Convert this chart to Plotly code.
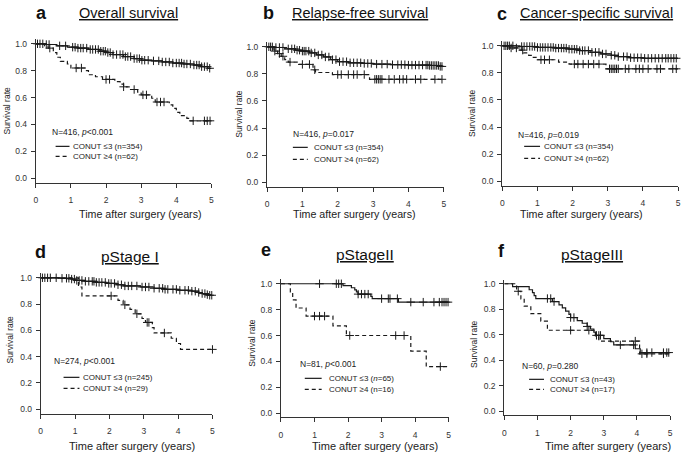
import numpy as np
import plotly.graph_objects as go

W, H = 685, 455

# ---------------- tick labels ----------------
X_TICKS = [0, 1, 2, 3, 4, 5]
X_TICK_TEXT = ["0", "1", "2", "3", "4", "5"]
Y_TICKS = [0.0, 0.2, 0.4, 0.6, 0.8, 1.0]
Y_TICK_TEXT = ["0.0", "0.2", "0.4", "0.6", "0.8", "1.0"]

# ---------------- panel texts ----------------
PANEL_LETTERS = ["a", "b", "c", "d", "e", "f"]
PANEL_TITLES = ["Overall survival", "Relapse-free survival", "Cancer-specific survival",
                "pStage I", "pStageII", "pStageIII"]
STATS = ["N=416, <i>p</i>&lt;0.001", "N=416, <i>p</i>=0.017", "N=416, <i>p</i>=0.019",
         "N=274, <i>p</i>&lt;0.001", "N=81, <i>p</i>&lt;0.001", "N=60, <i>p</i>=0.280"]
LOW_LABELS = ["CONUT ≤3 (n=354)", "CONUT ≤3 (n=354)", "CONUT ≤3 (n=354)",
              "CONUT ≤3 (n=245)", "CONUT ≤3 (<i>n</i>=65)", "CONUT ≤3 (n=43)"]
HIGH_LABELS = ["CONUT ≥4 (n=62)", "CONUT ≥4 (n=62)", "CONUT ≥4 (n=62)",
               "CONUT ≥4 (n=29)", "CONUT ≥4 (n=16)", "CONUT ≥4 (n=17)"]
X_TITLE = "Time after surgery (years)"
Y_TITLE = "Survival rate"

# ---------------- data ----------------
# a: overall survival
a_low_t = [0, 0.3, 0.6, 0.9, 1.2, 1.5, 1.8, 2.0, 2.2, 2.5, 2.8, 3.0, 3.3, 3.6, 3.9, 4.2, 4.5, 4.7, 4.9]
a_low_s = [1.0, 0.995, 0.985, 0.975, 0.968, 0.958, 0.945, 0.935, 0.92, 0.905, 0.89, 0.878, 0.873,
           0.865, 0.857, 0.85, 0.842, 0.83, 0.818]
a_low_c = [0.05, 0.12, 0.2, 0.3, 0.38, 0.68, 0.85, 1.05, 1.12, 1.2, 1.28, 1.35, 1.45, 1.55, 1.62, 1.7,
           1.78, 1.85, 1.92, 1.98, 2.05, 2.12, 2.2, 2.3, 2.4, 2.48, 2.55, 2.62, 2.7, 2.8, 2.88, 2.95,
           3.02, 3.1, 3.2, 3.35, 3.5, 3.6, 3.7, 3.8, 3.9, 4.0, 4.08, 4.15, 4.22, 4.3, 4.4, 4.5, 4.58,
           4.65, 4.72, 4.8, 4.88, 4.95]
a_high_t = [0, 0.25, 0.35, 0.5, 0.6, 0.7, 0.9, 1.0, 1.4, 1.5, 1.7, 1.9, 2.25, 2.4, 2.5, 2.7, 2.9, 3.0,
            3.3, 3.4, 3.8, 3.9, 4.0, 4.1, 4.3, 4.4]
a_high_s = [1.0, 0.984, 0.968, 0.935, 0.9, 0.87, 0.85, 0.82, 0.8, 0.77, 0.755, 0.735, 0.718, 0.7,
            0.68, 0.66, 0.64, 0.62, 0.595, 0.567, 0.545, 0.52, 0.49, 0.465, 0.445, 0.427]
a_high_c = [0.4, 1.15, 1.3, 2.0, 2.1, 2.5, 2.8, 3.05, 3.15, 3.45, 3.55, 3.65, 4.48, 4.8, 4.88, 4.96]

# b: relapse-free survival
b_low_t = [0, 0.2, 0.5, 0.8, 1.0, 1.2, 1.4, 1.6, 1.8, 2.0, 2.3, 2.7, 3.0, 3.5, 4.0, 4.6, 4.9]
b_low_s = [1.0, 0.995, 0.985, 0.975, 0.968, 0.955, 0.94, 0.925, 0.905, 0.89, 0.882, 0.877, 0.872,
           0.868, 0.865, 0.862, 0.855]
b_low_c = [0.05, 0.1, 0.15, 0.25, 0.35, 0.45, 0.6, 0.7, 0.78, 0.85, 0.92, 1.0, 1.05, 1.1, 1.18, 1.25,
           1.35, 1.45, 1.55, 1.65, 1.75, 1.85, 1.95, 2.05, 2.15, 2.25, 2.35, 2.45, 2.55, 2.65, 2.75,
           2.85, 2.95, 3.1, 3.25, 3.4, 3.55, 3.7, 3.8, 3.9, 4.0, 4.1, 4.2, 4.3, 4.4, 4.5, 4.55, 4.6,
           4.65, 4.7, 4.75, 4.8, 4.85, 4.9, 4.95]
b_high_t = [0, 0.1, 0.2, 0.3, 0.4, 0.5, 0.6, 0.9, 1.3, 1.33, 1.37, 1.85, 2.9]
b_high_s = [1.0, 0.984, 0.968, 0.95, 0.93, 0.905, 0.887, 0.87, 0.85, 0.83, 0.81, 0.795, 0.76]
b_high_c = [0.22, 0.35, 0.45, 0.65, 1.0, 1.2, 1.35, 2.0, 2.1, 2.3, 2.45, 2.55, 2.75, 3.05, 3.1, 3.15,
            3.2, 3.25, 3.45, 3.6, 3.75, 3.85, 3.95, 4.2, 4.35, 4.75, 4.95]

# c: cancer-specific survival
c_low_t = [0, 0.5, 1.0, 1.5, 1.9, 2.2, 2.5, 2.8, 3.1, 3.3, 3.6, 4.0]
c_low_s = [1.0, 0.995, 0.988, 0.983, 0.975, 0.965, 0.952, 0.94, 0.93, 0.92, 0.912, 0.908]
c_low_c = [0.05, 0.1, 0.15, 0.2, 0.3, 0.55, 0.62, 0.7, 0.78, 0.85, 0.92, 1.0, 1.08, 1.15, 1.22, 1.3,
           1.38, 1.45, 1.52, 1.6, 1.68, 1.75, 1.82, 1.9, 1.98, 2.05, 2.12, 2.2, 2.28, 2.35, 2.45,
           2.55, 2.65, 2.75, 2.85, 2.95, 3.1, 3.2, 3.3, 3.45, 3.55, 3.65, 3.75, 3.85, 3.95, 4.05,
           4.15, 4.25, 4.35, 4.45, 4.55, 4.65, 4.72, 4.8, 4.88, 4.95]
c_high_t = [0, 0.2, 0.5, 0.6, 0.75, 0.85, 1.0, 1.6, 1.9, 2.95]
c_high_s = [1.0, 0.984, 0.968, 0.948, 0.93, 0.914, 0.897, 0.88, 0.865, 0.83]
c_high_c = [0.25, 0.4, 0.58, 1.1, 1.2, 1.34, 2.05, 2.15, 2.3, 2.45, 2.6, 2.75, 3.05, 3.1, 3.15, 3.2,
            3.25, 3.3, 3.5, 3.6, 3.8, 3.9, 4.0, 4.15, 4.4, 4.5, 4.85, 4.95]

# d: pStage I
d_low_t = [0, 0.6, 0.9, 1.0, 1.3, 1.6, 1.9, 2.2, 2.4, 2.9, 3.3, 3.6, 4.0, 4.4, 4.6, 4.7, 4.8, 4.9]
d_low_s = [1.0, 0.996, 0.99, 0.98, 0.973, 0.965, 0.957, 0.947, 0.938, 0.93, 0.92, 0.912, 0.905,
           0.898, 0.888, 0.88, 0.872, 0.867]
d_low_c = [0.05, 0.12, 0.2, 0.28, 0.45, 0.62, 0.75, 0.82, 0.9, 0.98, 1.05, 1.12, 1.2, 1.3, 1.4, 1.5,
           1.55, 1.62, 1.7, 1.78, 1.88, 1.98, 2.05, 2.15, 2.25, 2.35, 2.45, 2.55, 2.65, 2.8, 2.95,
           3.05, 3.15, 3.3, 3.45, 3.55, 3.62, 3.7, 3.85, 3.95, 4.05, 4.2, 4.3, 4.4, 4.5, 4.6, 4.7,
           4.78, 4.85, 4.92, 4.98]
d_high_t = [0, 1.1, 1.2, 2.25, 2.4, 2.6, 2.75, 2.95, 3.05, 3.25, 3.3, 3.8, 3.95, 4.07]
d_high_s = [1.0, 0.93, 0.862, 0.828, 0.794, 0.76, 0.726, 0.69, 0.66, 0.62, 0.58, 0.54, 0.5, 0.455]
d_high_c = [2.05, 2.45, 2.8, 3.1, 3.15, 3.6, 5.0]

# e: pStage II
e_low_t = [0, 1.85, 2.1, 2.2, 2.25, 2.3, 2.68, 2.72, 3.5]
e_low_s = [1.0, 0.985, 0.969, 0.953, 0.937, 0.92, 0.902, 0.885, 0.858]
e_low_c = [1.15, 1.65, 1.72, 1.8, 2.3, 2.4, 2.5, 2.6, 3.0, 3.2, 3.25, 3.47, 3.87, 4.24, 4.56, 4.72,
           4.8, 4.86, 4.92, 4.98]
e_high_t = [0, 0.28, 0.35, 0.45, 0.75, 1.55, 1.95, 3.87, 4.33]
e_high_s = [1.0, 0.9375, 0.875, 0.8125, 0.75, 0.675, 0.6, 0.48, 0.36]
e_high_c = [1.0, 1.15, 1.3, 2.05, 3.42, 3.67, 4.75]

# f: pStage III
f_low_t = [0, 0.25, 0.75, 0.85, 0.9, 0.95, 1.45, 1.65, 1.75, 1.85, 1.95, 2.0, 2.2, 2.35, 2.5, 2.6,
           2.7, 2.75, 3.0, 3.2, 3.3, 3.95, 4.1]
f_low_s = [1.0, 0.977, 0.953, 0.93, 0.907, 0.884, 0.86, 0.835, 0.81, 0.785, 0.76, 0.735, 0.71, 0.69,
           0.665, 0.645, 0.62, 0.595, 0.57, 0.545, 0.52, 0.49, 0.46]
f_low_c = [1.3, 1.4, 1.5, 2.0, 2.1, 2.5, 2.78, 2.85, 2.9, 3.5, 3.9, 4.3, 4.45, 4.8, 4.9, 4.96]
f_high_t = [0, 0.37, 0.5, 0.6, 0.8, 1.1, 1.3, 2.75, 2.85, 4.08]
f_high_s = [1.0, 0.941, 0.882, 0.824, 0.765, 0.706, 0.635, 0.59, 0.55, 0.45]
f_high_c = [0.42, 2.0, 2.55, 3.95, 4.15, 4.3, 4.8]

SERIES = [
    (a_low_t, a_low_s, a_low_c, a_high_t, a_high_s, a_high_c),
    (b_low_t, b_low_s, b_low_c, b_high_t, b_high_s, b_high_c),
    (c_low_t, c_low_s, c_low_c, c_high_t, c_high_s, c_high_c),
    (d_low_t, d_low_s, d_low_c, d_high_t, d_high_s, d_high_c),
    (e_low_t, e_low_s, e_low_c, e_high_t, e_high_s, e_high_c),
    (f_low_t, f_low_s, f_low_c, f_high_t, f_high_s, f_high_c),
]

# ---------------- layout geometry (pixels) ----------------
# x0/x1: pixel of x=0 / x=5 ; p1/p0: pixel of y=1.0 / y=0.0
PANELS = [
    dict(x0=34, x1=211, p1=43, p0=178, letter=(40, 12), title=(127, 12), xt=(140, 214), yt=(5, 110),
         stat=(48, 132), leg=(54, 68, 146, 156, 70)),
    dict(x0=267, x1=445, p1=46, p0=182, letter=(268, 12), title=(361, 12), xt=(355, 214), yt=(238, 113),
         stat=(291, 134), leg=(293, 308, 147, 159, 312)),
    dict(x0=504, x1=681, p1=45, p0=181, letter=(504, 13), title=(599, 12), xt=(584, 214), yt=(473, 113),
         stat=(518, 135), leg=(526, 542, 146, 158, 544)),
    dict(x0=39, x1=212, p1=278, p0=410, letter=(39, 252), title=(129, 257), xt=(131, 447), yt=(8, 340),
         stat=(50, 362), leg=(62, 78, 378, 389, 80)),
    dict(x0=281, x1=450, p1=284, p0=414, letter=(266, 250), title=(366, 255), xt=(376, 447), yt=(252, 343),
         stat=(298, 365), leg=(305, 322, 379, 390, 327)),
    dict(x0=506, x1=673, p1=284, p0=412, letter=(503, 251), title=(594, 255), xt=(610, 447), yt=(476, 345),
         stat=(522, 367), leg=(531, 546, 380, 390, 550)),
]

YMIN, YMAX = -0.033, 1.033
FONT = "Liberation Sans, Arial, sans-serif"
INK = "#1a1a1a"


def px(x):
    return x / W


def py(y):
    return 1 - y / H


def step_xy(t, s):
    return list(t) + [5.0], list(s) + [s[-1]]


def surv_at(t, s, times):
    idx = np.searchsorted(np.asarray(t), np.asarray(times), side="right") - 1
    return np.asarray(s)[idx]


fig = go.Figure()
annotations = []
shapes = []

for i, (P, ser) in enumerate(zip(PANELS, SERIES)):
    k = "" if i == 0 else str(i + 1)
    xa, ya = "x" + k, "y" + k
    lt, ls, lc, ht, hs, hc = ser

    for t, s, c, dash in [(lt, ls, lc, "solid"), (ht, hs, hc, "4px,3px")]:
        sx, sy = step_xy(t, s)
        fig.add_trace(go.Scatter(x=sx, y=sy, mode="lines", line=dict(shape="hv", color=INK, width=1.2, dash=dash),
                                 xaxis=xa, yaxis=ya, showlegend=False, hoverinfo="skip"))
        fig.add_trace(go.Scatter(x=c, y=surv_at(t, s, c), mode="markers",
                                 marker=dict(symbol="cross-thin", size=6, color=INK,
                                             line=dict(width=1, color=INK)),
                                 xaxis=xa, yaxis=ya, showlegend=False, hoverinfo="skip", cliponaxis=False))

    ppu = P["p0"] - P["p1"]
    top = P["p1"] - (YMAX - 1.0) * ppu
    bot = P["p0"] - YMIN * ppu
    axcommon = dict(showline=True, linecolor="#333", linewidth=1, ticks="outside", ticklen=4,
                    tickcolor="#333", showgrid=False, zeroline=False, fixedrange=True,
                    tickfont=dict(family=FONT, size=8.5, color="#333"))
    fig.layout["xaxis" + k] = dict(domain=[px(P["x0"]), px(P["x1"])], range=[0, 5], anchor=ya,
                                   tickvals=X_TICKS, ticktext=X_TICK_TEXT, ticklabelstandoff=5, **axcommon)
    fig.layout["yaxis" + k] = dict(domain=[py(bot), py(top)], range=[YMIN, YMAX], anchor=xa,
                                   tickvals=Y_TICKS, ticktext=Y_TICK_TEXT, ticklabelstandoff=2, **axcommon)

    # panel letter & title
    annotations.append(dict(text="<b>%s</b>" % PANEL_LETTERS[i], x=px(P["letter"][0]), y=py(P["letter"][1]),
                            xref="paper", yref="paper", showarrow=False, xanchor="center", yanchor="middle",
                            font=dict(family=FONT, size=18, color="#111")))
    tsize = 14.5 if i < 3 else 15.5
    annotations.append(dict(text="<u>%s</u>" % PANEL_TITLES[i], x=px(P["title"][0]), y=py(P["title"][1]),
                            xref="paper", yref="paper", showarrow=False, xanchor="center", yanchor="middle",
                            font=dict(family=FONT, size=tsize, color="#111")))
    # axis titles
    annotations.append(dict(text=X_TITLE, x=px(P["xt"][0]), y=py(P["xt"][1]), xref="paper", yref="paper",
                            showarrow=False, xanchor="center", yanchor="middle",
                            font=dict(family=FONT, size=10.7 if i < 3 else 11, color="#222")))
    annotations.append(dict(text=Y_TITLE, x=px(P["yt"][0]), y=py(P["yt"][1]), xref="paper", yref="paper",
                            showarrow=False, xanchor="center", yanchor="middle", textangle=-90,
                            font=dict(family=FONT, size=8.5, color="#222")))
    # legend block
    annotations.append(dict(text=STATS[i], x=px(P["stat"][0]), y=py(P["stat"][1]), xref="paper", yref="paper",
                            showarrow=False, xanchor="left", yanchor="middle",
                            font=dict(family=FONT, size=8.5, color="#222")))
    lx0, lx1, ly1, ly2, tx = P["leg"]
    for yy, lab, dash in [(ly1, LOW_LABELS[i], "solid"), (ly2, HIGH_LABELS[i], "4px,3px")]:
        shapes.append(dict(type="line", xref="paper", yref="paper", x0=px(lx0), x1=px(lx1), y0=py(yy), y1=py(yy),
                           line=dict(color=INK, width=1.2, dash=dash)))
        annotations.append(dict(text=lab, x=px(tx), y=py(yy), xref="paper", yref="paper", showarrow=False,
                                xanchor="left", yanchor="middle", font=dict(family=FONT, size=8, color="#222")))

fig.update_layout(width=W, height=H, margin=dict(l=0, r=0, t=0, b=0), paper_bgcolor="white",
                  plot_bgcolor="white", showlegend=False, annotations=annotations, shapes=shapes,
                  hovermode=False, dragmode=False)

fig.write_html("out.html", config={"displayModeBar": False, "staticPlot": True},
               post_script="document.body.style.margin='0';document.body.style.overflow='hidden';")
